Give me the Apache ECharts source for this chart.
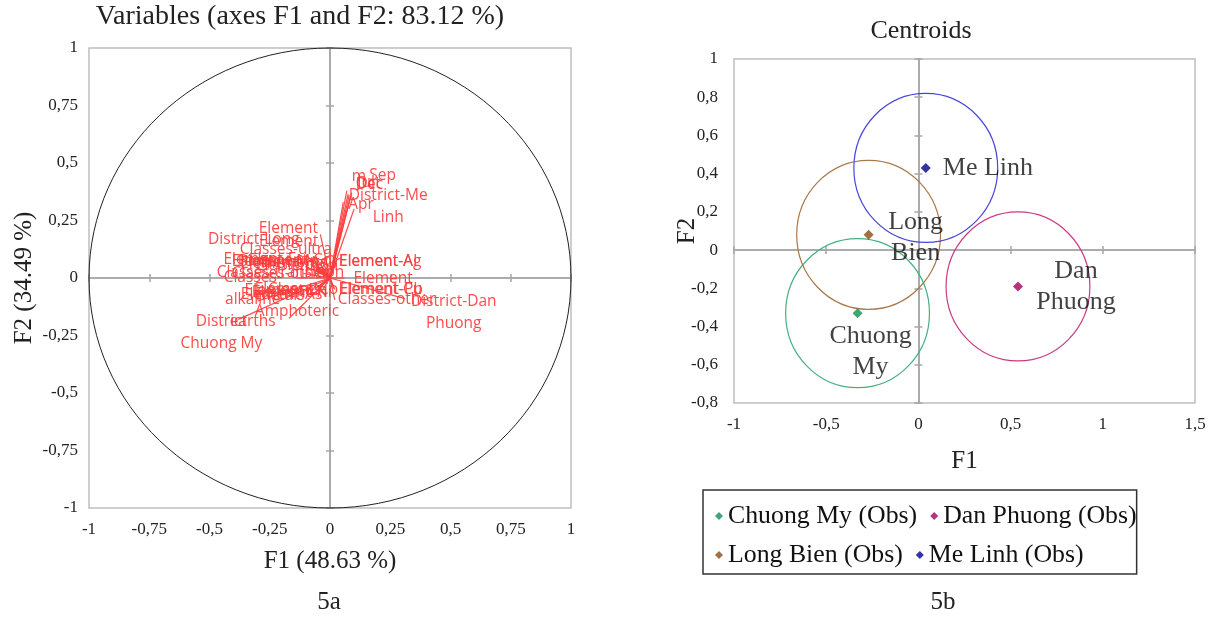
<!DOCTYPE html>
<html>
<head>
<meta charset="UTF-8">
<title>Variables and centroids</title>
<script src="https://cdn.jsdelivr.net/npm/echarts@6/dist/echarts.min.js"></script>
<style>
    html, body { margin: 0; padding: 0; background: #fff; }
    #main { width: 1217px; height: 620px; }
</style>
</head>
<body>
<div id="main"></div>
<script>
// ---- 5a: variables (correlation circle) ----
var varNames = [
    'm', 'Sep', 'Jul', 'Oct', 'Dec', 'District-Me\nLinh', 'Apr',
    'Element', 'District-Long\nBien', 'Element', 'Classes-ultra',
    'Element-Fe', 'Element-Mn', 'Element-Cd', 'Element-Cr', 'Element-Hg', 'Element-Sn',
    'Classes-other\nmetals', 'Classes-transition',
    'Element-Zn', 'Element-Ni', 'Element-Co', 'Element-As',
    'Classes-\nalkaline\nearths', 'District\nChuong My', 'Classes-\nAmphoteric',
    'Element-Ag', 'Element-Al', 'Element', 'Element-Cu', 'Element-Pb',
    'Classes-other', 'District-Dan\nPhuong'
];
var varF1 = [
    0.07, 0.09, 0.075, 0.08, 0.085, 0.055, 0.1,
    -0.04, -0.1, -0.06, -0.03,
    -0.1, -0.08, -0.06, -0.04, -0.07, -0.05,
    -0.14, -0.11,
    -0.05, -0.03, -0.04, -0.06,
    -0.3, -0.38, -0.17,
    0.02, 0.025, 0.06, 0.015, 0.02,
    0.02, 0.31
];
var varF2 = [
    0.38, 0.37, 0.365, 0.36, 0.355, 0.33, 0.3,
    0.19, 0.1, 0.09, 0.07,
    0.05, 0.06, 0.05, 0.06, 0.04, 0.035,
    0.0, 0.02,
    -0.04, -0.05, -0.03, -0.045,
    -0.1, -0.18, -0.175,
    0.07, 0.065, 0.0, -0.045, -0.05,
    -0.095, -0.09
];
var xTicks5a = { min: -1, max: 1, step: 0.25 };
var yTicks5a = { min: -1, max: 1, step: 0.25 };

// ---- 5b: centroids ----
var groups = ['Chuong My', 'Dan Phuong', 'Long Bien', 'Me Linh'];
var groupF1 = [-0.33, 0.54, -0.27, 0.04];
var groupF2 = [-0.33, -0.19, 0.08, 0.43];
var groupRadius = [0.39, 0.39, 0.39, 0.39];
var xTicks5b = { min: -1, max: 1.5, step: 0.5 };
var yTicks5b = { min: -0.8, max: 1, step: 0.2 };

// label placement for the variable names (pixel offsets from arrow tip)
var labelOffsets = [
    [12, -14, 'center'], [31, -17, 'center'], [18, -11, 'center'], [19, -12, 'center'], [19, -12, 'center'], [45, 4, 'center'], [7, -4, 'center'],
    [-32, -6, 'center'], [-52, -4, 'center'], [-27, -16, 'center'], [-37, -12, 'center'],
    [-42, -7, 'center'], [-35, -3, 'center'], [-25, -6, 'center'], [-20, -2, 'center'], [-31, -5, 'center'], [-21, -4, 'center'],
    [-16, 7, 'center'], [-23, -1, 'center'],
    [-32, 3, 'center'], [-31, 3, 'center'], [-24, 5, 'center'], [-34, 6, 'center'],
    [-5, -1, 'center'], [-17, 13, 'center'], [8, -18, 'center'],
    [4, 0, 'left'], [3, -1, 'left'], [9, 1, 'left'], [5, 1, 'left'], [5, 0, 'left'],
    [3, 0, 'left'], [49, 14, 'center']
];
var groupColors = ['#0f8f52', '#a3005c', '#8b4c12', '#00008b'];
var circleColors = ['#45b07e', '#cc3a86', '#a8784a', '#4646dc'];
// [position, distance, align, offsetX, offsetY]
var groupLabelStyle = [
    ['bottom', 2, 'center', 13, 0],
    ['right', 12, 'center', 41, 0],
    ['right', 12, 'center', 30, 3],
    ['right', 12, 'left', 0, 0]
];

var serif = '"Liberation Serif", "DejaVu Serif", serif';
var red = 'rgba(255,60,60,0.92)';

function fmt(v) {
    return String(Math.round(v * 100) / 100).replace('.', ',');
}

var chart = echarts.init(document.getElementById('main'));

function baseAxes(gridIndex, t, isX, nameText, nameGap, labelMargin) {
    var main = {
        gridIndex: gridIndex, type: 'value', min: t.min, max: t.max, interval: t.step,
        axisLine: { show: false }, axisTick: { show: false }, splitLine: { show: false },
        axisLabel: { formatter: fmt, fontFamily: serif, fontSize: 17, color: '#222', margin: labelMargin },
        name: nameText, nameLocation: 'middle', nameGap: nameGap, nameMoveOverlap: false,
        nameTextStyle: { fontFamily: serif, fontSize: 25, color: '#222' }
    };
    if (isX) main.position = 'bottom'; else main.position = 'left';
    // zero lines with ticks crossing both sides
    var zeroOut = {
        gridIndex: gridIndex, type: 'value', min: t.min, max: t.max, interval: t.step,
        position: isX ? 'bottom' : 'left',
        axisLine: { show: true, onZero: true, lineStyle: { color: '#a6a6a6', width: 1.5 } },
        axisTick: { show: true, length: 4, lineStyle: { color: '#a6a6a6', width: 1.5 } },
        axisLabel: { show: false }, splitLine: { show: false }
    };
    var zeroIn = echarts.util.clone(zeroOut);
    zeroIn.axisTick.inside = true;
    return [main, zeroOut, zeroIn];
}

var xAxes = baseAxes(0, xTicks5a, true, 'F1 (48.63 %)', 41, 13)
    .concat(baseAxes(1, xTicks5b, true, 'F1', 46, 13));
var yAxes = baseAxes(0, yTicks5a, false, 'F2 (34.49 %)', 52, 11)
    .concat(baseAxes(1, yTicks5b, false, 'F2', 34, 16));
// make zero lines reference the value axes of their own grid
xAxes[1].axisLine.onZeroAxisIndex = 0; xAxes[2].axisLine.onZeroAxisIndex = 0;
xAxes[4].axisLine.onZeroAxisIndex = 3; xAxes[5].axisLine.onZeroAxisIndex = 3;
yAxes[1].axisLine.onZeroAxisIndex = 0; yAxes[2].axisLine.onZeroAxisIndex = 0;
yAxes[4].axisLine.onZeroAxisIndex = 3; yAxes[5].axisLine.onZeroAxisIndex = 3;

var vectorData = varNames.map(function (n, i) { return [varF1[i], varF2[i], i]; });

var series = [
    {
        // unit circle
        type: 'custom', xAxisIndex: 0, yAxisIndex: 0, silent: true, clip: false,
        data: [[0, 0, 1]],
        renderItem: function (params, api) {
            var c = api.coord([api.value(0), api.value(1)]);
            var s = api.size([api.value(2), api.value(2)]);
            return {
                type: 'ellipse',
                shape: { cx: c[0], cy: c[1], rx: s[0], ry: s[1] },
                style: { fill: 'none', stroke: '#222', lineWidth: 1 }
            };
        }
    },
    {
        // variable vectors and their names
        type: 'custom', xAxisIndex: 0, yAxisIndex: 0, silent: true, clip: false,
        data: vectorData,
        renderItem: function (params, api) {
            var i = api.value(2);
            var o = api.coord([0, 0]);
            var p = api.coord([api.value(0), api.value(1)]);
            var off = labelOffsets[i];
            return {
                type: 'group',
                children: [
                    {
                        type: 'line',
                        shape: { x1: o[0], y1: o[1], x2: p[0], y2: p[1] },
                        style: { stroke: red, lineWidth: 1.2 }
                    },
                    {
                        type: 'text',
                        z2: 10,
                        style: {
                            text: varNames[i], x: p[0] + off[0], y: p[1] + off[1],
                            fill: red, fontFamily: '"Open Sans", "Noto Sans", sans-serif',
                            fontSize: 15.5, lineHeight: 22,
                            align: off[2], verticalAlign: 'middle'
                        }
                    }
                ]
            };
        }
    },
    {
        // confidence circles of the centroids
        type: 'custom', xAxisIndex: 3, yAxisIndex: 3, silent: true, clip: false,
        data: groups.map(function (g, i) { return [groupF1[i], groupF2[i], groupRadius[i], i]; }),
        renderItem: function (params, api) {
            var c = api.coord([api.value(0), api.value(1)]);
            var s = api.size([api.value(2), api.value(2)]);
            return {
                type: 'ellipse',
                shape: { cx: c[0], cy: c[1], rx: s[0], ry: s[1] },
                style: { fill: 'none', stroke: circleColors[api.value(3)], lineWidth: 1.2 }
            };
        }
    }
];

groups.forEach(function (g, i) {
    var ls = groupLabelStyle[i];
    series.push({
        name: g + ' (Obs)',
        type: 'scatter', xAxisIndex: 3, yAxisIndex: 3,
        symbol: 'diamond', symbolSize: 10,
        itemStyle: { color: groupColors[i] },
        label: {
            show: true, position: ls[0], distance: ls[1], align: ls[2], offset: [ls[3], ls[4]],
            formatter: g === 'Me Linh' ? g : g.replace(' ', '\n'),
            fontFamily: serif, fontSize: 26, lineHeight: 31, color: '#111'
        },
        data: [[groupF1[i], groupF2[i]]],
        z: 5
    });
});

var option = {
    animation: false,
    backgroundColor: '#fff',
    grid: [
        { left: 89, top: 48, width: 482, height: 460, show: true, borderColor: '#bfbfbf', borderWidth: 1.5 },
        { left: 734, top: 59, width: 461, height: 344, show: true, borderColor: '#bfbfbf', borderWidth: 1.5 }
    ],
    xAxis: xAxes,
    yAxis: yAxes,
    legend: {
        data: groups.map(function (g) { return g + ' (Obs)'; }),
        left: 703, top: 490, width: 440,
        orient: 'horizontal',
        icon: 'diamond', itemWidth: 8, itemHeight: 8, itemGap: 13,
        padding: [13, 0, 6, 12],
        borderColor: '#333', borderWidth: 1.5,
        textStyle: { fontFamily: serif, fontSize: 25.8, color: '#111', padding: [0, 6, 0, 0] }
    },
    graphic: [
        { type: 'text', x: 300, y: 17, style: { text: 'Variables (axes F1 and F2: 83.12 %)', fontFamily: serif, fontSize: 28, fill: '#222', align: 'center', verticalAlign: 'middle' } },
        { type: 'text', x: 921, y: 31, style: { text: 'Centroids', fontFamily: serif, fontSize: 26, fill: '#222', align: 'center', verticalAlign: 'middle' } },
        { type: 'text', x: 329, y: 602, style: { text: '5a', fontFamily: serif, fontSize: 25, fill: '#222', align: 'center', verticalAlign: 'middle' } },
        { type: 'text', x: 943, y: 602, style: { text: '5b', fontFamily: serif, fontSize: 25, fill: '#222', align: 'center', verticalAlign: 'middle' } }
    ],
    series: series
};
chart.setOption(option);
</script>
</body>
</html>
